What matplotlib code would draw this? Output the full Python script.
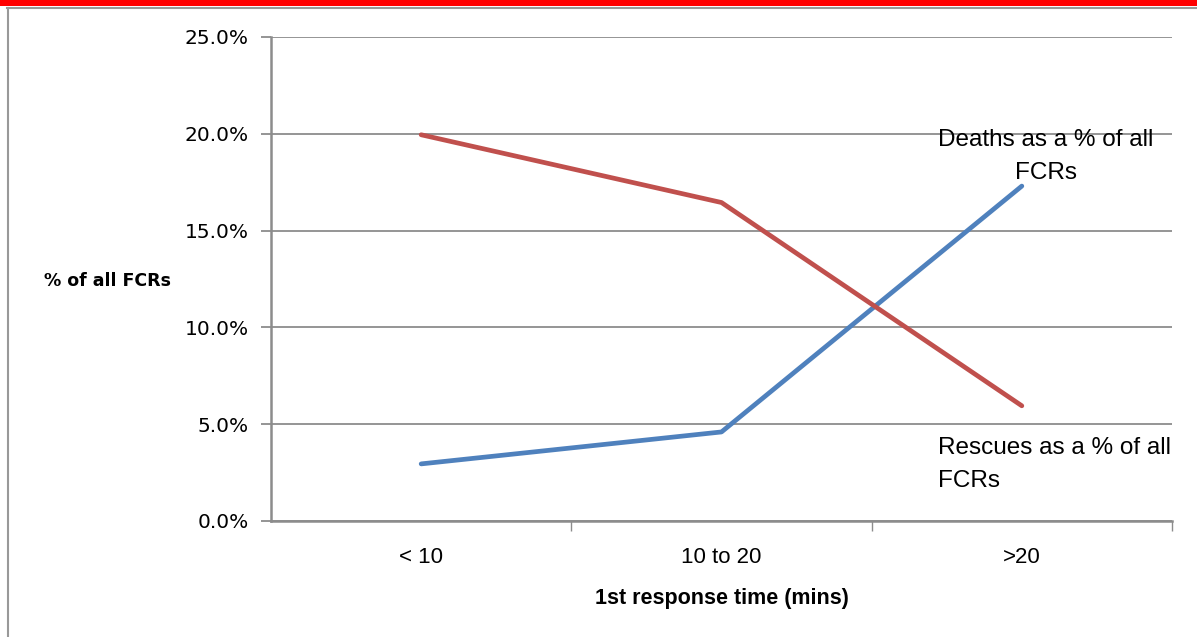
import numpy as np
import matplotlib
matplotlib.use("Agg")
from matplotlib import pyplot as plt
from matplotlib.lines import Line2D
from matplotlib.patches import Rectangle

# data (percent of all FCRs)
categories = ["< 10", "10 to 20", ">20"]
deaths_pct = [2.95, 4.6, 17.3]
rescues_pct = [19.95, 16.45, 5.95]
yticks = [0, 5, 10, 15, 20, 25]

W, H = 1197, 637
fig = plt.figure(figsize=(W / 100, H / 100), dpi=100)
fig.patch.set_facecolor("white")

# red title strip (title text is cropped off in the source) and outer frame
fig.add_artist(Rectangle((0, 1 - 6 / H), 1, 6 / H, transform=fig.transFigure,
                         color="#ff0000", lw=0))
fig.add_artist(Line2D([7 / W, 1], [1 - 7.5 / H, 1 - 7.5 / H], transform=fig.transFigure,
                      color="#999999", lw=1.5))
fig.add_artist(Line2D([7.5 / W, 7.5 / W], [0, 1 - 7.5 / H], transform=fig.transFigure,
                      color="#999999", lw=1.5))

ax = fig.add_axes([271 / W, 1 - 521 / H, (1172 - 271) / W, (521 - 37) / H])
x = np.arange(len(categories))

ax.plot(x, deaths_pct, color="#4f81bd", lw=3.4, solid_capstyle="round")
ax.plot(x, rescues_pct, color="#c0504d", lw=3.4, solid_capstyle="round")

ax.set_xlim(-0.5, 2.5)
ax.set_ylim(0, 25)
ax.set_yticks(yticks)
ax.set_yticklabels(["%.1f%%" % v for v in yticks], fontsize=14.5, family="DejaVu Sans")
ax.yaxis.grid(True, color="#8c8c8c", lw=1.3)
ax.set_axisbelow(True)

ax.set_xticks(x)
ax.set_xticklabels(categories, fontsize=16, family="Liberation Sans")
ax.set_xticks([0.5, 1.5, 2.5], minor=True)
ax.tick_params(axis="x", which="major", length=0, pad=19)
ax.tick_params(axis="x", which="minor", length=7, color="#8c8c8c", width=1)
ax.tick_params(axis="y", length=7, color="#8c8c8c", width=1.3, pad=9)

for s in ["top", "right"]:
    ax.spines[s].set_visible(False)
for s in ["left", "bottom"]:
    ax.spines[s].set_color("#8c8c8c")
    ax.spines[s].set_linewidth(1.8)

ax.set_xlabel("1st response time (mins)", fontsize=15.5, fontweight="bold",
              family="Liberation Sans", labelpad=14)
fig.text(108 / W, 1 - 281 / H, "% of all FCRs", fontsize=12.5, fontweight="bold",
         family="DejaVu Sans", ha="center", va="center")

ax.text(2.08, 20.25, "Deaths as a % of all\nFCRs", fontsize=17.5, ha="center", va="top",
        family="Liberation Sans", linespacing=1.65)
ax.text(1.72, 4.35, "Rescues as a % of all\nFCRs", fontsize=17.5, ha="left", va="top",
        family="Liberation Sans", linespacing=1.65)

fig.savefig("out.png", dpi=100)
